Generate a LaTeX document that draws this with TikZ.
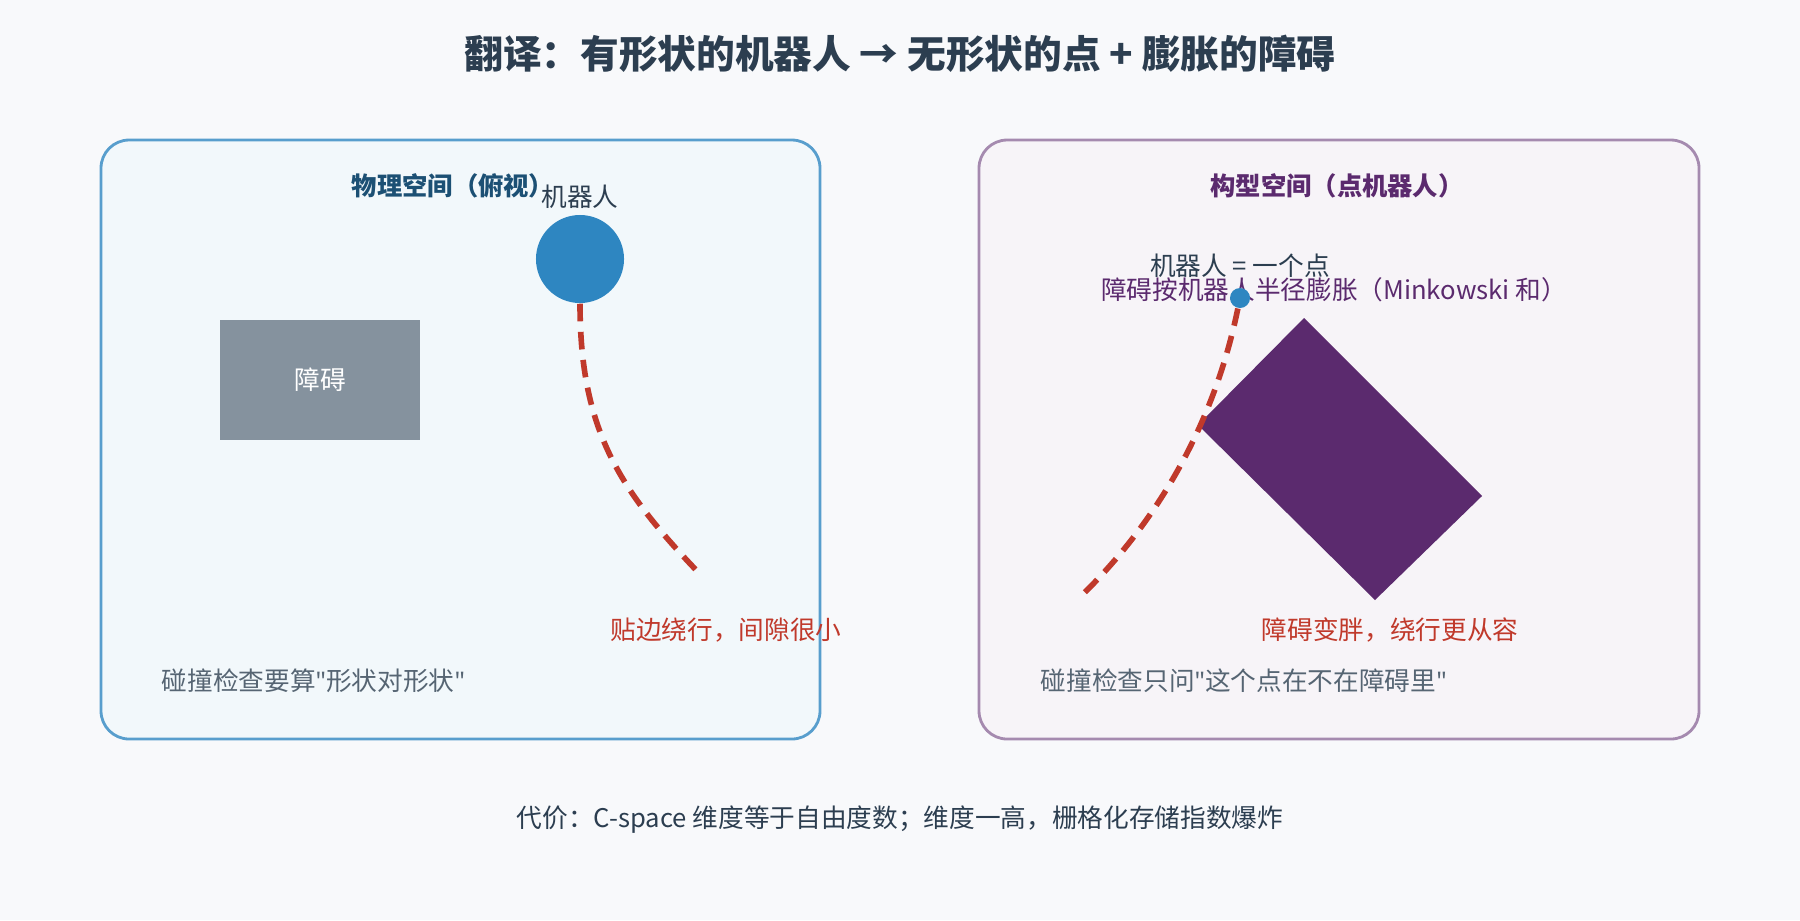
\documentclass[tikz,border=0pt]{standalone}
\usepackage{fontspec}
\setmainfont{Noto Sans CJK SC}
\newfontfamily\quotefont{Noto Sans}
\usepackage{tikz}
\usetikzlibrary{arrows,shapes}
\definecolor{bgc}{HTML}{F8F9FB}
\definecolor{ink}{HTML}{2C3E50}
\definecolor{robotblue}{HTML}{2E86C1}
\definecolor{obsgray}{HTML}{85929E}
\definecolor{obspurple}{HTML}{5B2A6E}
\definecolor{pathred}{HTML}{C0392B}
\newcommand{\qt}{{\quotefont\symbol{34}}}
\tikzstyle{panel} = [draw, rounded corners=8pt, line width=0.8pt]
\tikzstyle{heading} = [font=\fontsize{7.2}{8}\selectfont\bfseries, inner sep=0pt]
\tikzstyle{label} = [font=\fontsize{7.3}{8}\selectfont, inner sep=0pt]
\tikzstyle{path line} = [draw=pathred, line width=1.6pt, dash pattern=on 5pt off 3pt]
\begin{document}
\begin{tikzpicture}[x=0.01cm, y=-0.01cm]
\fill[bgc] (0,0) rectangle (1800,920);
\node[font=\fontsize{11}{12}\selectfont\bfseries, text=ink] (title) at (900,54) {翻译：有形状的机器人 → 无形状的点 + 膨胀的障碍};

% left panel: physical space
\draw[panel, draw=robotblue!80, fill=robotblue!6] (101,140) rectangle (820,739);
\node[heading, text=robotblue!60!black] (lefthead) at (453,186) {物理空间（俯视）};
\node[fill=obsgray, minimum width=2cm, minimum height=1.2cm, inner sep=0pt, font=\fontsize{7.3}{8}\selectfont, text=white] (obstacle) at (320,380) {障碍};
\node[circle, fill=robotblue, minimum size=0.88cm, inner sep=0pt] (robot) at (580,259) {};
\node[label, text=ink] (robotlabel) at (580,197) {机器人};
\coordinate (leftend) at (697,571);
\path[path line] (robot.south) .. controls (580,430) and (620,490) .. (leftend);
\node[label, text=pathred] (leftnote) at (726,630) {贴边绕行，间隙很小};
\node[label, text=ink!80, anchor=west] (leftcheck) at (161,681) {碰撞检查要算\qt 形状对形状\qt};

% right panel: configuration space
\draw[panel, draw=obspurple!55, fill=obspurple!5] (979,140) rectangle (1699,739);
\node[heading, text=obspurple] (righthead) at (1337,186) {构型空间（点机器人）};
\fill[obspurple] (1304,318) -- (1482,496) -- (1375,600) -- (1198,425) -- cycle;
\node[label, text=ink] (pointlabel) at (1240,266) {机器人 = 一个点};
\node[label, text=obspurple] (inflatelabel) at (1334,290) {障碍按机器人半径膨胀（Minkowski 和）};
\node[circle, fill=robotblue, minimum size=0.2cm, inner sep=0pt] (point) at (1240,298) {};
\coordinate (rightend) at (1079,598);
\path[path line] (point) .. controls (1215,420) and (1160,520) .. (rightend);
\node[label, text=pathred] (rightnote) at (1390,630) {障碍变胖，绕行更从容};
\node[label, text=ink!80, anchor=west] (rightcheck) at (1040,681) {碰撞检查只问\qt 这个点在不在障碍里\qt};

\node[label, text=ink] (cost) at (900,820) {代价：C-space 维度等于自由度数；维度一高，栅格化存储指数爆炸};
\end{tikzpicture}
\end{document}
